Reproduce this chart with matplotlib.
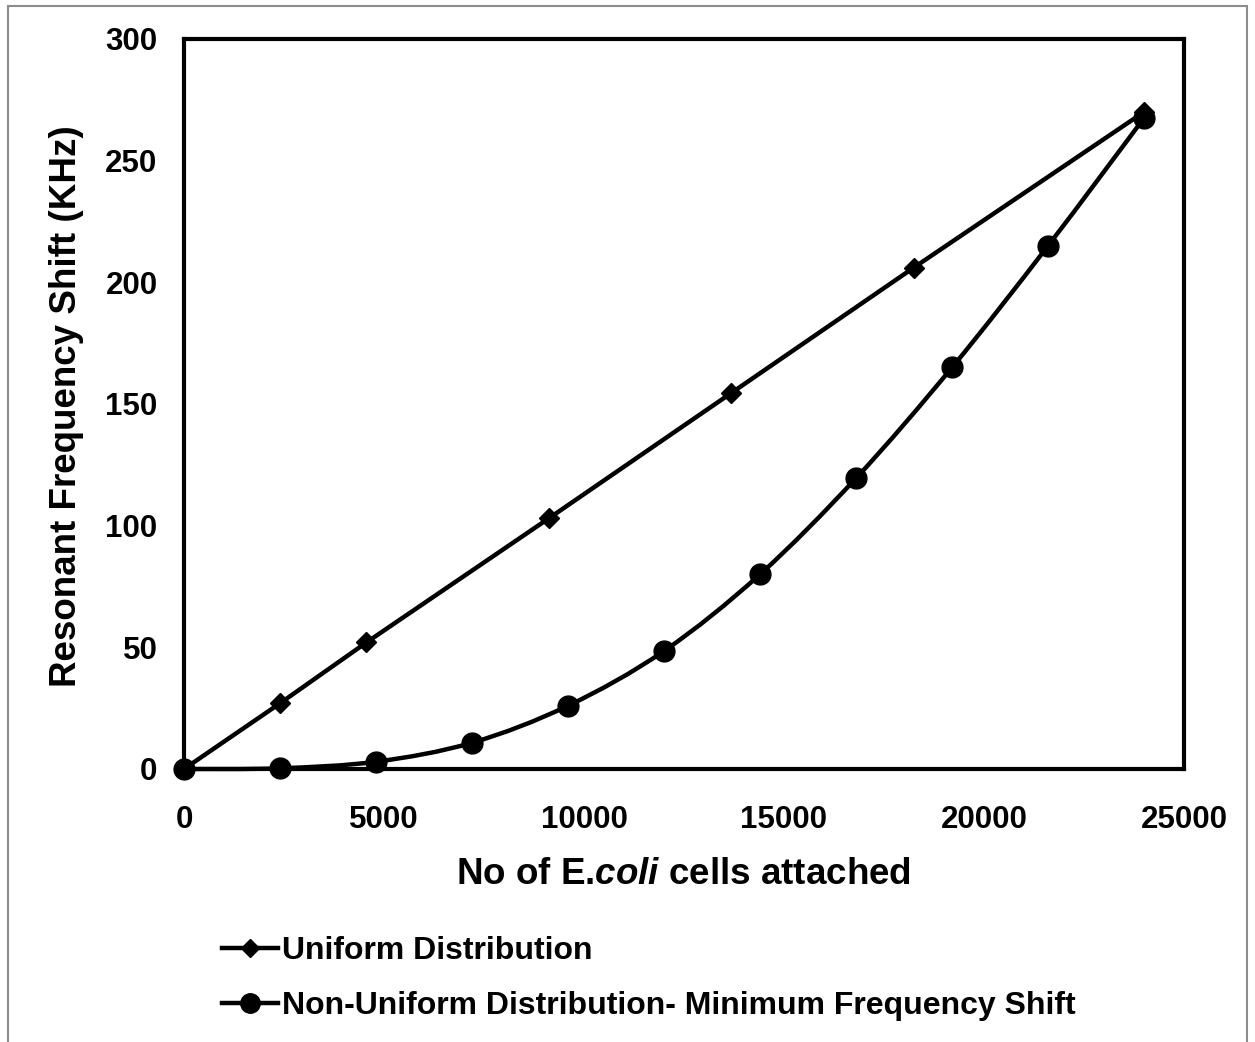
import matplotlib
matplotlib.use("Agg")
import matplotlib.pyplot as plt
from matplotlib.path import Path
from matplotlib.patches import PathPatch, Rectangle
from matplotlib.lines import Line2D
import numpy as np

plt.rcParams['font.family'] = ['Liberation Sans', 'DejaVu Sans']
plt.rcParams['font.weight'] = 'bold'
plt.rcParams['mathtext.fontset'] = 'custom'
plt.rcParams['mathtext.rm'] = 'Liberation Sans:bold'
plt.rcParams['mathtext.bf'] = 'Liberation Sans:bold'
plt.rcParams['mathtext.it'] = 'Liberation Sans:italic:bold'
try:
    plt.rcParams['mathtext.bfit'] = 'Liberation Sans:italic:bold'
except KeyError:
    pass

# Uniform distribution of attached cells
uniform_cells = [0, 2400, 4560, 9120, 13680, 18240, 24000]
uniform_shift = [0, 27, 52, 103, 154.5, 206, 270]

# Non-uniform distribution, minimum frequency shift
nonuni_cells = [0, 2400, 4800, 7200, 9600, 12000, 14400, 16800, 19200, 21600, 24000]
nonuni_shift = [0, 0.3, 3, 10.8, 26, 48.5, 80, 119.5, 165, 215, 267.5]

x_ticks = [0, 5000, 10000, 15000, 20000, 25000]
y_ticks = [0, 50, 100, 150, 200, 250, 300]

W, H = 1255, 1042
fig = plt.figure(figsize=(W / 100, H / 100), dpi=100)
fig.patch.set_facecolor('white')

# thin grey chart-area border
fig.add_artist(Rectangle((8 / W, -0.05), (1247 - 8) / W, 1.05 - 6 / H,
                         transform=fig.transFigure, fill=False,
                         edgecolor='#8c8c8c', linewidth=1.5))

ax = fig.add_axes([184 / W, 1 - 769 / H, 1000 / W, 730 / H])
ax.set_xlim(0, 25000)
ax.set_ylim(0, 300)
ax.set_xticks(x_ticks)
ax.set_yticks(y_ticks)
ax.tick_params(length=0, labelsize=22.5)
ax.tick_params(axis='x', pad=26)
ax.tick_params(axis='y', pad=19)
for lab in ax.get_xticklabels() + ax.get_yticklabels():
    lab.set_fontweight('bold')
for s in ax.spines.values():
    s.set_linewidth(3)
    s.set_color('black')


def smooth_path(xs, ys, tension=1 / 6):
    """Bezier path through the points, Catmull-Rom style (spreadsheet smoothed line)."""
    pts = np.column_stack([xs, ys]).astype(float)
    n = len(pts)
    verts = [pts[0]]
    codes = [Path.MOVETO]
    for i in range(n - 1):
        p0 = pts[i - 1] if i > 0 else pts[i]
        p1 = pts[i]
        p2 = pts[i + 1]
        p3 = pts[i + 2] if i + 2 < n else pts[i + 1]
        c1 = p1 + (p2 - p0) * tension
        c2 = p2 - (p3 - p1) * tension
        verts += [c1, c2, p2]
        codes += [Path.CURVE4] * 3
    return Path(verts, codes)


ax.plot(uniform_cells, uniform_shift, color='black', lw=3.2,
        marker='D', markersize=10, zorder=3, clip_on=False)

ax.add_patch(PathPatch(smooth_path(nonuni_cells, nonuni_shift), fill=False,
                       edgecolor='black', lw=3.2, zorder=3, clip_on=False))
ax.plot(nonuni_cells, nonuni_shift, linestyle='none', color='black',
        marker='o', markersize=15, zorder=4, clip_on=False)

ax.set_xlabel('No of E.$\\mathit{coli}$ cells attached', fontsize=26.5,
              fontweight='bold', va='top')
ax.xaxis.set_label_coords(0.499, -0.121)
ax.set_ylabel('Resonant Frequency Shift (KHz)', fontsize=26.5,
              fontweight='bold')
ax.yaxis.set_label_coords(-0.100, 0.497)

handles = [
    Line2D([], [], color='black', lw=3.2, marker='D', markersize=9),
    Line2D([], [], color='black', lw=3.2, marker='o', markersize=14),
]
labels = ['Uniform Distribution',
          'Non-Uniform Distribution- Minimum Frequency Shift']
fig.legend(handles, labels, loc='upper left',
           bbox_to_anchor=(222 / W, 1 - 936 / H), frameon=False,
           prop={'size': 23, 'weight': 'bold'}, handlelength=1.75,
           handletextpad=0.12, labelspacing=0.78, borderaxespad=0,
           borderpad=0)

fig.savefig('out.png', dpi=100, facecolor='white')
